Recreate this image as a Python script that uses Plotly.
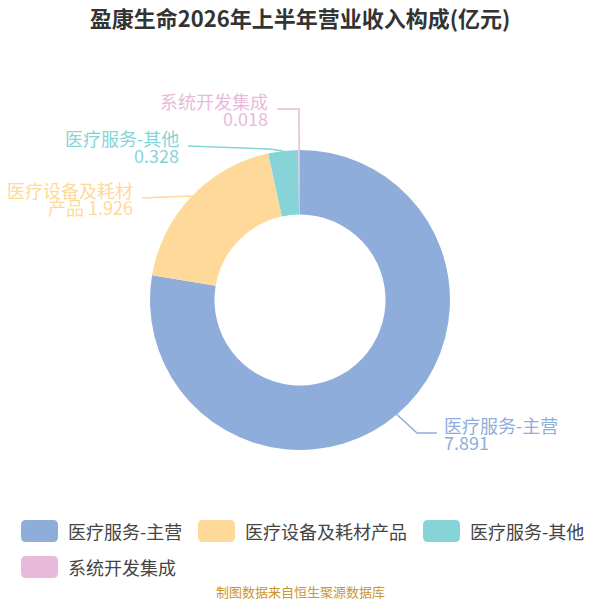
import math
import plotly.graph_objects as go

# Data
CATEGORIES = ["医疗服务-主营", "医疗设备及耗材产品", "医疗服务-其他", "系统开发集成"]
VALUES = [7.891, 1.926, 0.328, 0.018]
COLORS = ["#8FADDA", "#FFD99A", "#86D4D7", "#E8BADA"]

TITLE = "盈康生命2026年上半年营业收入构成(亿元)"
SOURCE = "制图数据来自恒生聚源数据库"

FONT = "Noto Sans CJK SC, Noto Sans, sans-serif"
W = H = 600
CX, CY, R = 300, 300, 150

# label leader layout (pixels): elbow point, line end, text side
LABEL_LAYOUT = [
    dict(elbow=(417, 433), end=(437, 433), side="left"),
    dict(elbow=(190, 196), end=(142, 198), side="right"),
    dict(elbow=(270, 149), end=(188, 146), side="right"),
    dict(elbow=(299, 109), end=(277, 109), side="right"),
]


def px(x):
    return x / W


def py(y):
    return 1 - y / H


fig = go.Figure()
fig.add_trace(go.Pie(
    labels=CATEGORIES, values=VALUES,
    marker=dict(colors=COLORS, line=dict(width=0)),
    hole=0.57, sort=False, direction="clockwise", rotation=0,
    textinfo="none", showlegend=False,
    domain=dict(x=[0.25, 0.75], y=[0.25, 0.75]),
    hovertemplate="%{label}: %{value}<extra></extra>",
))

shapes = []
annotations = []

# outside labels with leader lines, start point from slice mid-angle
total = sum(VALUES)
cum = 0
for name, val, col, lay in zip(CATEGORIES, VALUES, COLORS, LABEL_LAYOUT):
    mid = (cum + val / 2) / total * 2 * math.pi
    cum += val
    x0, y0 = CX + R * math.sin(mid), CY - R * math.cos(mid)
    (x1, y1), (x2, y2) = lay["elbow"], lay["end"]
    shapes.append(dict(
        type="path", xref="paper", yref="paper",
        path=f"M {px(x0)},{py(y0)} L {px(x1)},{py(y1)} L {px(x2)},{py(y2)}",
        line=dict(color=col, width=1.5),
    ))
    if len(name) > 7:
        lines = [name[:7], f"{name[7:]} {val:.3f}"]
    else:
        lines = [name, f"{val:.3f}"]
    if lay["side"] == "left":
        tx, xa = x2 + 6, "left"
    else:
        tx, xa = x2 - 8, "right"
    for i, ln in enumerate(lines):
        annotations.append(dict(
            x=px(tx), y=py(y2 - 8 + i * 17), xref="paper", yref="paper",
            text=ln, showarrow=False, xanchor=xa, yanchor="middle",
            borderpad=0,
            font=dict(family=FONT, size=18, color=col),
        ))

# custom legend
lx, ly = 21, 531
for name, col in zip(CATEGORIES, COLORS):
    tw = sum(18 if ord(c) > 255 else 6 for c in name)
    if lx + 46 + tw > 590:
        lx, ly = 21, ly + 36
    x0, x1, y0, y1 = px(lx), px(lx + 37), py(ly - 11), py(ly + 11)
    r = 5 / W
    shapes.append(dict(
        type="path", xref="paper", yref="paper",
        path=(f"M {x0 + r},{y0} L {x1 - r},{y0} Q {x1},{y0} {x1},{y0 - r} "
              f"L {x1},{y1 + r} Q {x1},{y1} {x1 - r},{y1} L {x0 + r},{y1} "
              f"Q {x0},{y1} {x0},{y1 + r} L {x0},{y0 - r} Q {x0},{y0} {x0 + r},{y0} Z"),
        fillcolor=col, line=dict(width=0),
    ))
    annotations.append(dict(
        x=px(lx + 45), y=py(ly), xref="paper", yref="paper",
        text=name, showarrow=False, xanchor="left", yanchor="middle",
        font=dict(family=FONT, size=18, color="#444444"),
    ))
    lx = lx + 46 + tw + 17

annotations.append(dict(
    x=0.5, y=py(591), xref="paper", yref="paper", text=SOURCE,
    showarrow=False, xanchor="center", yanchor="middle",
    font=dict(family=FONT, size=13, color="#C9962F"),
))

fig.update_layout(
    width=W, height=H,
    paper_bgcolor="white", plot_bgcolor="white",
    margin=dict(l=0, r=0, t=0, b=0),
    title=dict(text=f"<b>{TITLE}</b>", x=0.5, xanchor="center",
               y=py(19), yanchor="middle",
               font=dict(family=FONT, size=22, color="#333333")),
    shapes=shapes,
    annotations=annotations,
)

fig.write_html(
    "out.html",
    config={"displayModeBar": False},
    post_script="document.body.style.margin='0';document.body.style.overflow='hidden';",
)
